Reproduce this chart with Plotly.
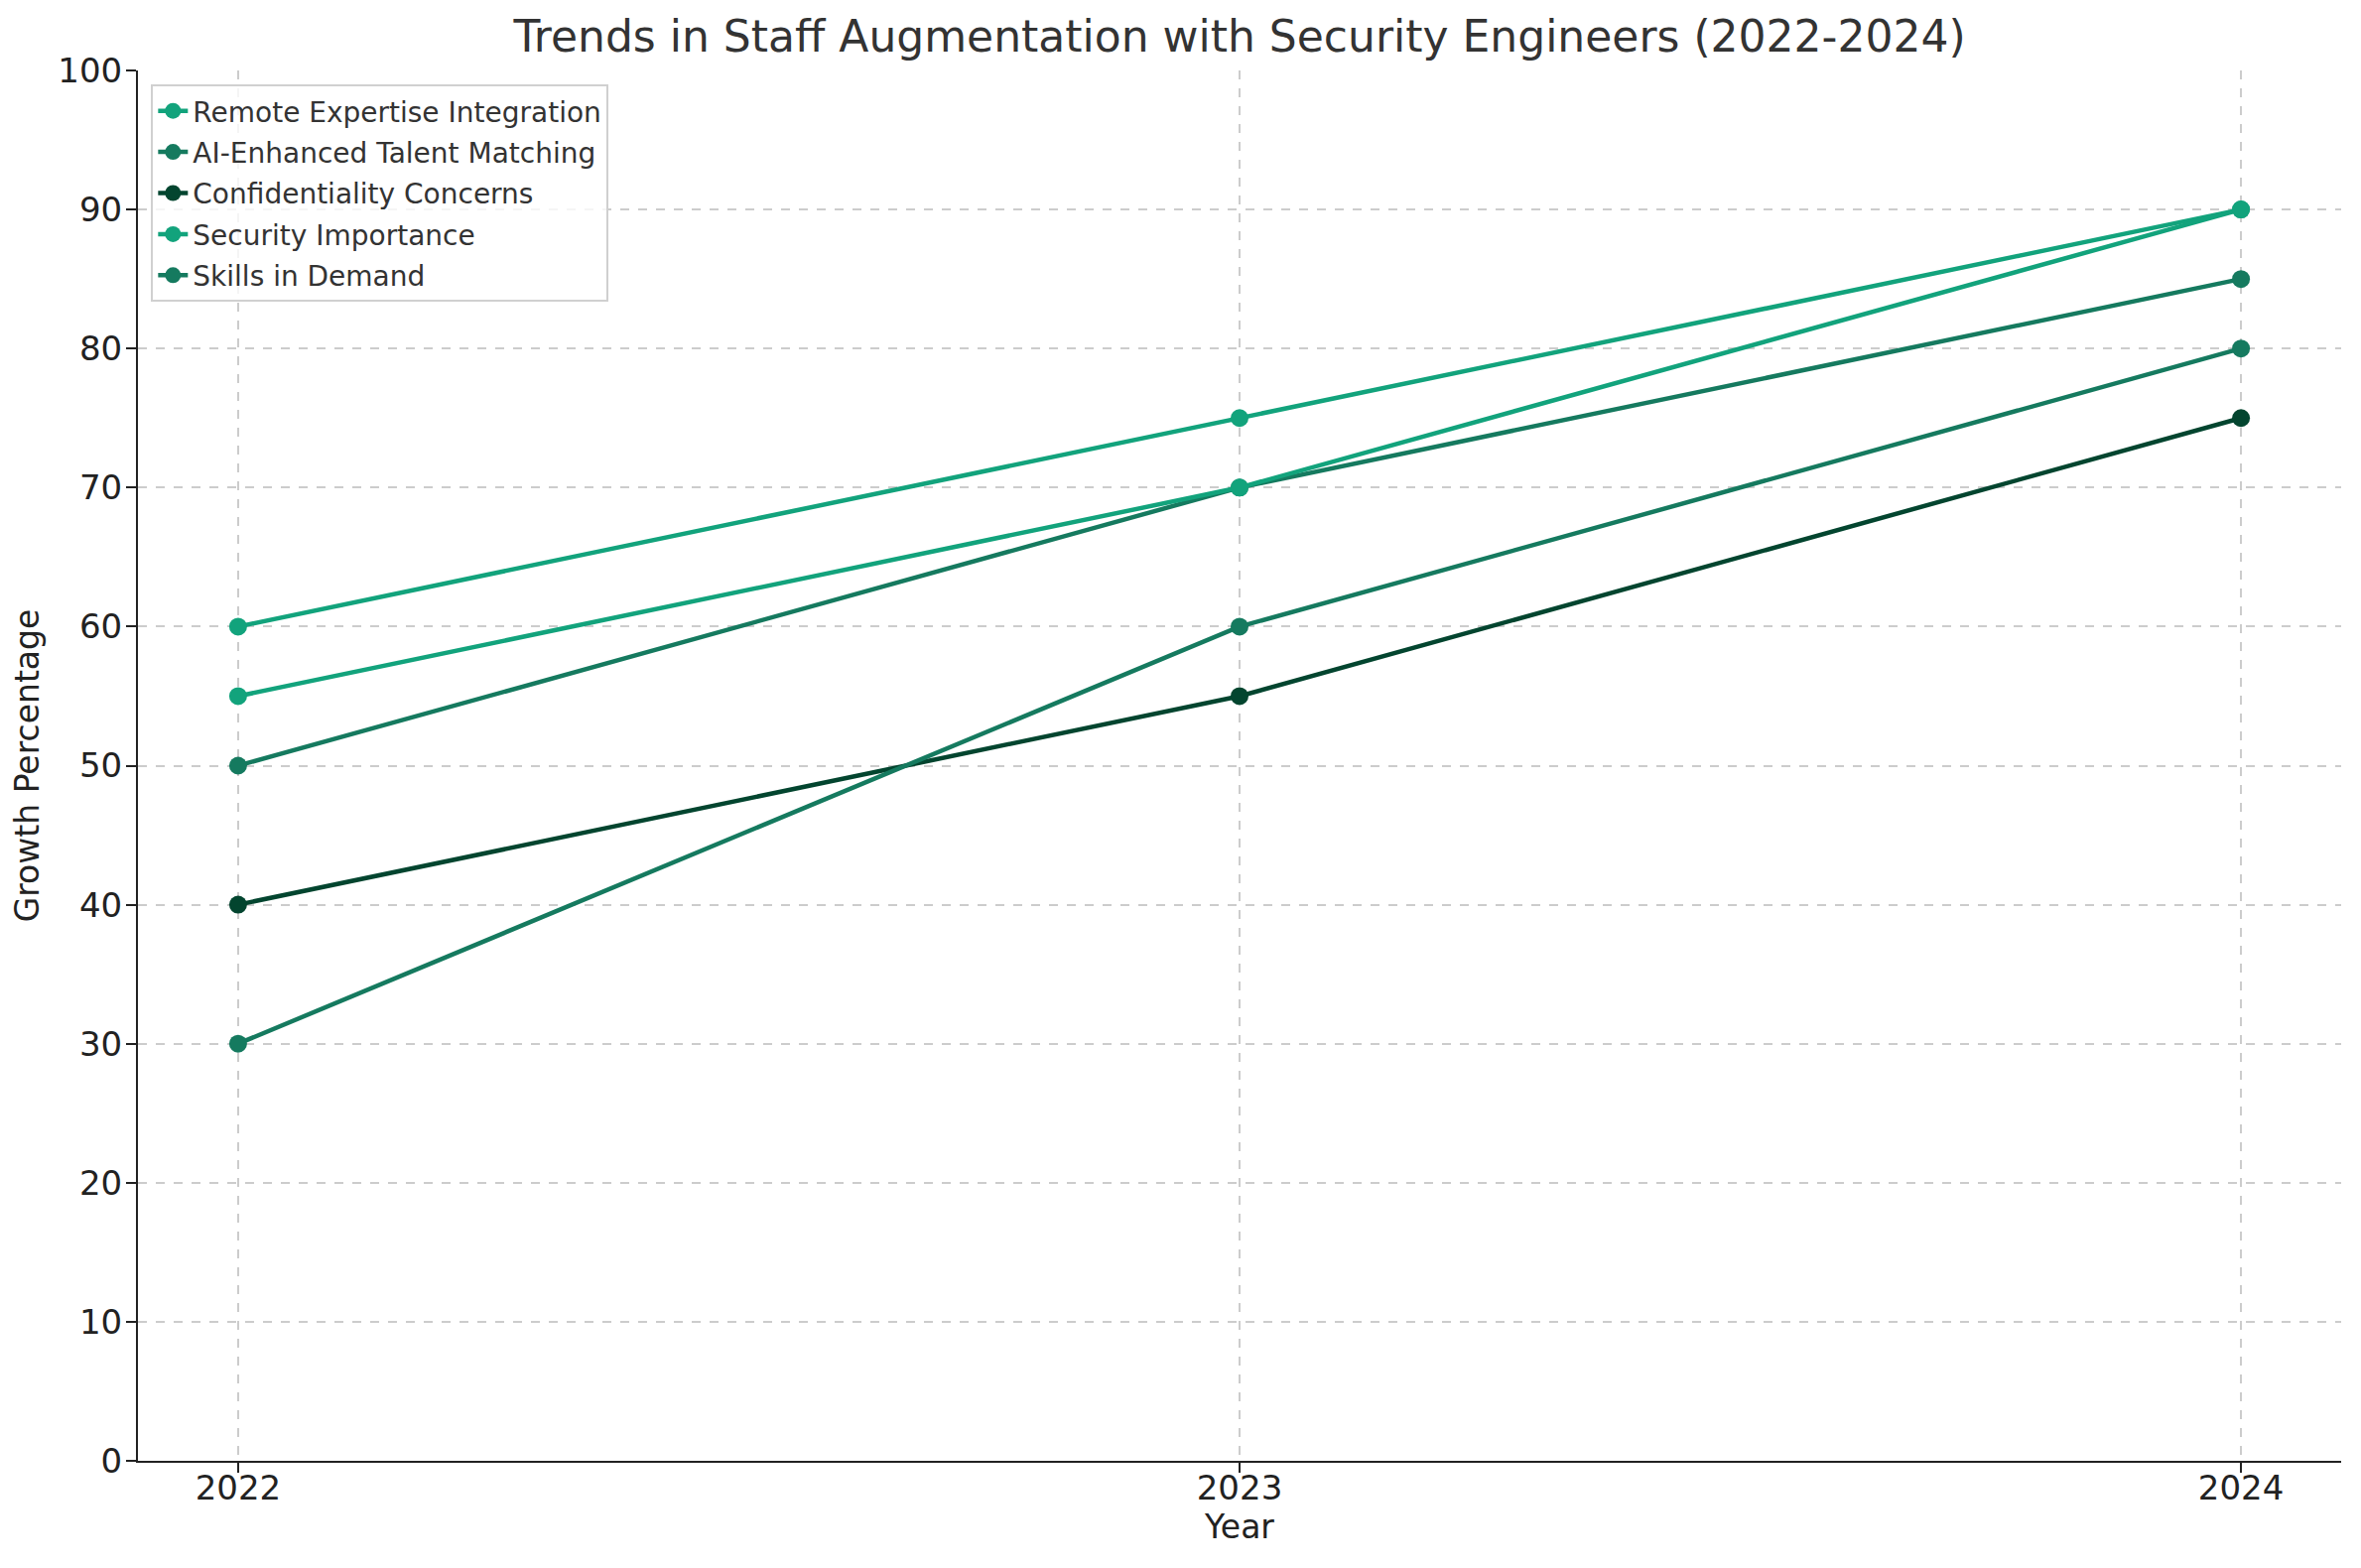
import plotly.graph_objects as go

# Data
years = [2022, 2023, 2024]
remote_expertise = [60, 75, 90]
ai_talent_matching = [50, 70, 85]
confidentiality = [40, 55, 75]
security_importance = [55, 70, 90]
skills_in_demand = [30, 60, 80]

light_green = '#12a37c'
mid_green = '#157a5f'
dark_green = '#03452f'

series = [
    ('Remote Expertise Integration', remote_expertise, light_green),
    ('AI-Enhanced Talent Matching', ai_talent_matching, mid_green),
    ('Confidentiality Concerns', confidentiality, dark_green),
    ('Security Importance', security_importance, light_green),
    ('Skills in Demand', skills_in_demand, mid_green),
]

fig = go.Figure()

for i, (name, values, color) in enumerate(series):
    fig.add_trace(go.Scatter(
        x=years,
        y=values,
        mode='lines+markers',
        name=name,
        legendgroup=str(i),
        line=dict(color=color, width=4.5),
        marker=dict(color=color, size=18),
    ))

# page has an 8px body margin, so margins are shifted to compensate
fig.update_layout(
    width=2379,
    height=1580,
    margin=dict(l=131, r=28, t=63, b=116),
    plot_bgcolor='white',
    paper_bgcolor='white',
    font=dict(family='DejaVu Sans', color='#222222'),
    title=dict(
        text='Trends in Staff Augmentation with Security Engineers (2022-2024)',
        x=0.5,
        xref='paper',
        xanchor='center',
        y=1 - 29 / 1580,
        yref='container',
        yanchor='middle',
        font=dict(size=44, color='#333333'),
    ),
    legend=dict(
        x=0.006,
        y=0.99,
        xanchor='left',
        yanchor='top',
        bgcolor='rgba(255,255,255,0.8)',
        bordercolor='#d0d0d0',
        borderwidth=2,
        font=dict(size=28, color='#333333'),
        tracegroupgap=2,
    ),
    showlegend=True,
)

fig.update_xaxes(
    range=[2021.9, 2024.1],
    tickvals=years,
    ticktext=[str(y) for y in years],
    automargin=False,
    showline=True,
    linecolor='#222222',
    linewidth=2,
    ticks='outside',
    ticklen=10,
    tickwidth=2,
    tickcolor='#222222',
    tickfont=dict(size=34, color='#222222'),
    ticklabelstandoff=-14,
    showgrid=True,
    gridcolor='#cccccc',
    gridwidth=1.5,
    griddash='dash',
    zeroline=False,
    title=dict(text='Year', font=dict(size=33, color='#222222'), standoff=4),
)

fig.update_yaxes(
    range=[0, 100],
    tickvals=list(range(0, 101, 10)),
    automargin=False,
    showline=True,
    linecolor='#222222',
    linewidth=2,
    ticks='outside',
    ticklen=10,
    tickwidth=2,
    tickcolor='#222222',
    tickfont=dict(size=34, color='#222222'),
    ticklabelstandoff=-3,
    showgrid=True,
    gridcolor='#cccccc',
    gridwidth=1.5,
    griddash='dash',
    zeroline=False,
    title=dict(text='Growth Percentage', font=dict(size=33, color='#222222'), standoff=10),
)

fig.write_html("out.html")
